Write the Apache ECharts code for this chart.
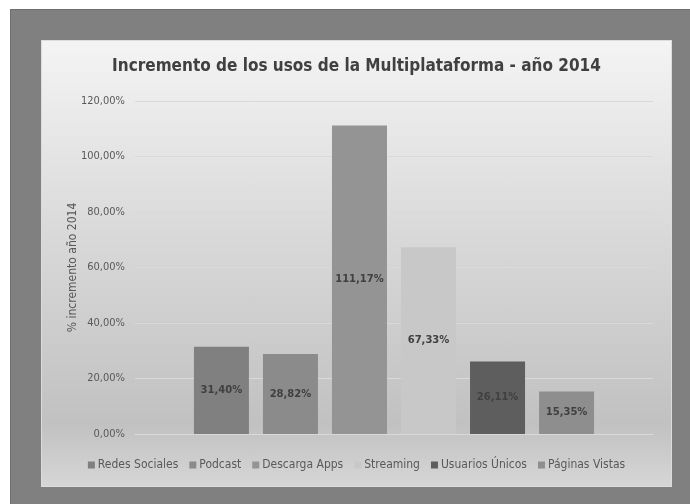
<!DOCTYPE html>
<html>
<head>
<meta charset="UTF-8">
<title>Incremento de los usos de la Multiplataforma</title>
<style>
  * { margin: 0; padding: 0; }
  body { background: #ffffff; width: 690px; height: 504px; overflow: hidden; position: relative; }
  /* marco gris exterior */
  #marco {
    position: absolute; left: 10px; top: 9px; width: 690px; height: 500px;
    background: #808080; border-top: 1px solid #6e6e6e; border-left: 1px solid #6e6e6e;
  }
  #chart {
    position: absolute; left: 42px; top: 41px; width: 629px; height: 445px;
    background: linear-gradient(to bottom, #f4f4f4 0%, #d8d8d8 45%, #c1c1c1 86%, #d6d6d6 100%);
    box-shadow: 0 0 0 1px #dcdcdc;
  }
</style>
</head>
<body>
<div id="marco"></div>
<div id="chart"></div>
<script src="https://cdn.jsdelivr.net/npm/echarts@6/dist/echarts.min.js"></script>
<script>
// datos
var categorias = ['Redes Sociales', 'Podcast', 'Descarga Apps', 'Streaming', 'Usuarios Únicos', 'Páginas Vistas'];
var valores = [31.40, 28.82, 111.17, 67.33, 26.11, 15.35];
var colores = ['#808080', '#8b8b8b', '#949494', '#c8c8c8', '#5e5e5e', '#8e8e8e'];
var ticksY = [0, 20, 40, 60, 80, 100, 120];

function pct(v) {
  return v.toFixed(2).replace('.', ',') + '%';
}

var series = [];
for (var i = 0; i < categorias.length; i++) {
  series.push({
    name: categorias[i],
    type: 'bar',
    data: [valores[i]],
    barWidth: 55,
    barGap: '25.5%',
    itemStyle: { color: colores[i] },
    label: {
      show: true,
      position: 'inside',
      formatter: function (p) { return pct(p.value); },
      color: '#404040',
      fontFamily: 'DejaVu Sans',
      fontWeight: 'bold',
      fontSize: 10
    }
  });
}

var chart = echarts.init(document.getElementById('chart'));
chart.setOption({
  backgroundColor: 'transparent',
  animation: false,
  title: {
    text: 'Incremento de los usos de la Multiplataforma - año 2014',
    left: 'center',
    top: 12,
    textStyle: {
      fontFamily: 'DejaVu Sans Condensed',
      fontWeight: 'bold',
      fontSize: 17,
      color: '#404040'
    }
  },
  legend: {
    data: categorias,
    bottom: 10,
    left: 'center',
    itemWidth: 7,
    itemHeight: 7,
    itemGap: 11,
    icon: 'rect',
    textStyle: { fontFamily: 'DejaVu Sans Condensed', fontSize: 12, color: '#595959', padding: [0, 0, 0, -2] }
  },
  grid: { left: 93, right: 18, top: 60, bottom: 52, containLabel: false },
  xAxis: {
    type: 'category',
    data: [''],
    axisLine: { lineStyle: { color: '#d9d9d9' } },
    axisTick: { show: false },
    axisLabel: { show: false }
  },
  yAxis: {
    type: 'value',
    min: ticksY[0],
    max: ticksY[ticksY.length - 1],
    interval: 20,
    name: '% incremento año 2014',
    nameLocation: 'middle',
    nameGap: 56,
    nameMoveOverlap: false,
    nameRotate: 90,
    nameTextStyle: { fontFamily: 'DejaVu Sans Condensed', fontSize: 12, color: '#595959' },
    axisLine: { show: false },
    axisTick: { show: false },
    axisLabel: {
      margin: 10,
      formatter: function (v) { return pct(v); },
      fontFamily: 'DejaVu Sans Condensed',
      fontSize: 11,
      color: '#595959'
    },
    splitLine: { lineStyle: { color: '#d9d9d9', width: 1 } }
  },
  series: series
});
</script>
</body>
</html>
